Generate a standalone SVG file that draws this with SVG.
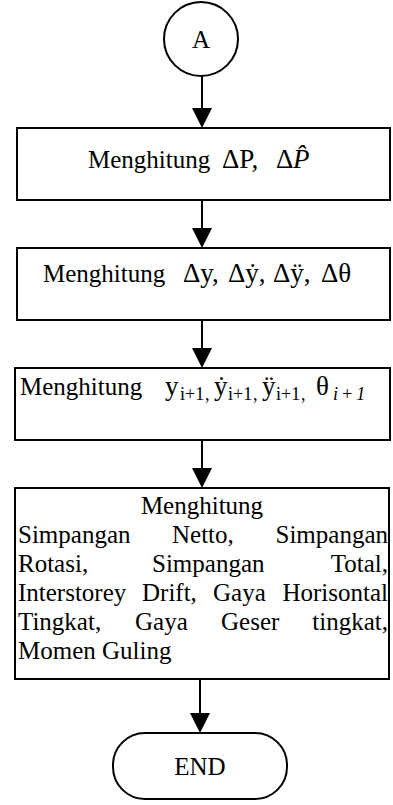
<svg xmlns="http://www.w3.org/2000/svg" width="393" height="805" viewBox="0 0 393 805">
<style>
.s{fill:none;stroke:#000;stroke-width:2}
.t{font-family:"Liberation Serif","DejaVu Serif",serif;font-size:25px;fill:#000}
.m{font-size:27px}
.sub{font-size:18px}
.ah{fill:#000}
</style>
<rect width="393" height="805" fill="#fff"/>
<g id="nodeA">
<circle class="s" cx="201" cy="39" r="37"/>
<text class="t" x="201" y="48" text-anchor="middle">A</text>
</g>
<g id="box1">
<rect class="s" x="17" y="128" width="373" height="72"/>
<text class="t" y="168"><tspan x="88">Menghitung</tspan><tspan class="m" x="222">ΔP,</tspan><tspan class="m" x="276">Δ</tspan><tspan class="m" x="293" font-style="italic">P̂</tspan></text>
</g>
<g id="box2">
<rect class="s" x="17" y="248" width="373" height="72"/>
<text class="t" y="282"><tspan x="43">Menghitung</tspan><tspan class="m" x="183">Δy,</tspan><tspan class="m" x="228">Δẏ,</tspan><tspan class="m" x="273">Δÿ,</tspan><tspan class="m" x="321">Δθ</tspan></text>
</g>
<g id="box3">
<rect class="s" x="15" y="368" width="375" height="72"/>
<text class="t" y="395"><tspan x="20">Menghitung</tspan><tspan class="m" x="165">y</tspan><tspan class="sub" x="180" dy="5">i+1</tspan><tspan class="sub" x="205">,</tspan><tspan class="m" x="214" dy="-5">ẏ</tspan><tspan class="sub" x="228" dy="5">i+1</tspan><tspan class="sub" x="253">,</tspan><tspan class="m" x="262" dy="-5">ÿ</tspan><tspan class="sub" x="276" dy="5">i+1</tspan><tspan class="sub" x="301">,</tspan><tspan class="m" x="316" dy="-5">θ</tspan><tspan class="sub" x="333" dy="5" font-size="20" font-style="italic" letter-spacing="3">i+1</tspan></text>
</g>
<g id="box4">
<rect class="s" x="15" y="488" width="374" height="191"/>
<text class="t" x="202" y="514" text-anchor="middle">Menghitung</text>
<text class="t" y="543"><tspan x="18">Simpangan</tspan><tspan x="172">Netto,</tspan><tspan x="388" text-anchor="end">Simpangan</tspan></text>
<text class="t" y="572"><tspan x="18">Rotasi,</tspan><tspan x="152">Simpangan</tspan><tspan x="388" text-anchor="end">Total,</tspan></text>
<text class="t" y="601"><tspan x="18">Interstorey</tspan><tspan x="142">Drift,</tspan><tspan x="213">Gaya</tspan><tspan x="388" text-anchor="end">Horisontal</tspan></text>
<text class="t" y="630"><tspan x="18">Tingkat,</tspan><tspan x="135">Gaya</tspan><tspan x="221">Geser</tspan><tspan x="388" text-anchor="end">tingkat,</tspan></text>
<text class="t" x="18" y="659">Momen Guling</text>
</g>
<g id="end">
<rect class="s" x="113" y="733" width="174" height="66" rx="32"/>
<text class="t" x="200" y="775" text-anchor="middle">END</text>
</g>
<g id="connectors">
<line class="s" x1="202" y1="76" x2="202" y2="110"/>
<polygon class="ah" points="192,108 212,108 202,128"/>
<line class="s" x1="202" y1="200" x2="202" y2="230"/>
<polygon class="ah" points="192,228 212,228 202,248"/>
<line class="s" x1="202" y1="320" x2="202" y2="350"/>
<polygon class="ah" points="192,348 212,348 202,368"/>
<line class="s" x1="202" y1="440" x2="202" y2="470"/>
<polygon class="ah" points="192,468 212,468 202,488"/>
<line class="s" x1="200" y1="679" x2="200" y2="715"/>
<polygon class="ah" points="190,713 210,713 200,733"/>
</g>
</svg>
